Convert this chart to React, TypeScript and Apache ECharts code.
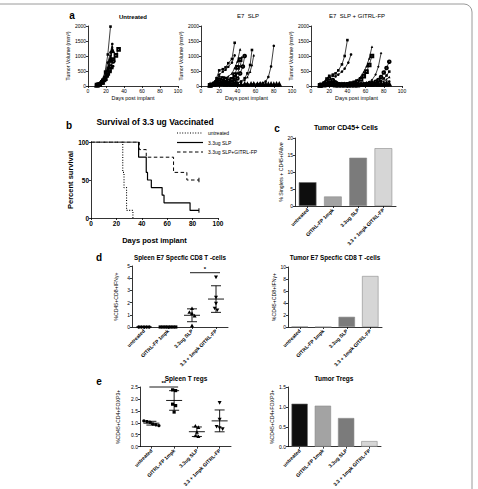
import React, { useEffect, useRef } from "react";
import * as echarts from "echarts";

const FONT = "'Liberation Sans', Arial, Helvetica, sans-serif";

// ---- Panel a: tumour volume (mm³) of each mouse, [day, volume] ----
const untreatedMice: number[][][] = [
  [[10, 30], [13, 80], [16, 210], [19, 480], [22, 1050], [25, 1980]],
  [[10, 40], [13, 90], [16, 200], [19, 420], [22, 780], [25, 1120], [27, 1400]],
  [[10, 25], [13, 60], [16, 160], [19, 330], [22, 620], [25, 960], [27, 1260]],
  [[10, 30], [13, 55], [16, 120], [19, 240], [22, 420], [25, 640], [28, 880], [31, 1020], [34, 1220]],
  [[10, 20], [13, 60], [16, 140], [19, 300], [22, 560], [25, 1010]],
  [[10, 35], [13, 70], [16, 150], [19, 270], [22, 460], [25, 640], [28, 820]],
  [[10, 20], [13, 45], [16, 90], [19, 170], [22, 320], [25, 470], [27, 600]],
  [[10, 30], [13, 55], [16, 110], [19, 210], [22, 420], [25, 820], [27, 1320]],
  [[10, 15], [13, 40], [16, 95], [19, 210], [22, 370], [25, 520], [28, 660]],
  [[10, 25], [13, 50], [16, 130], [19, 260], [22, 520], [25, 880], [27, 1180]],
];

const slpMice: number[][][] = [
  [[10, 40], [14, 110], [17, 260], [20, 520], [24, 560], [27, 620], [30, 760], [34, 900], [37, 1440]],
  [[10, 30], [14, 80], [17, 190], [20, 380], [24, 480], [27, 540], [30, 640], [34, 780], [37, 1020]],
  [[10, 50], [14, 100], [17, 230], [20, 330], [24, 300], [27, 280], [30, 320], [34, 420], [37, 600], [40, 820], [43, 1220]],
  [[10, 20], [14, 60], [17, 120], [20, 210], [24, 250], [27, 220], [30, 180], [34, 220], [37, 380], [40, 620], [43, 880]],
  [[10, 30], [14, 70], [17, 150], [20, 250], [24, 200], [27, 160], [30, 150], [34, 180], [37, 260], [40, 420], [43, 650], [45, 960]],
  [[10, 25], [14, 50], [17, 100], [20, 150], [24, 120], [27, 100], [30, 90], [34, 110], [37, 160], [40, 250], [43, 420], [46, 650], [48, 1000]],
  [[10, 20], [14, 40], [17, 80], [20, 100], [24, 90], [27, 80], [30, 70], [34, 60], [37, 80], [40, 100], [44, 150], [48, 260], [51, 420], [54, 700], [56, 1200]],
  [[10, 30], [14, 50], [17, 70], [20, 80], [24, 70], [27, 60], [30, 60], [34, 70], [37, 90], [40, 110], [44, 140], [48, 200], [51, 300], [54, 480], [56, 700], [58, 1030]],
  [[10, 20], [14, 40], [17, 50], [20, 60], [24, 50], [27, 40], [30, 40], [34, 30], [37, 40], [40, 40], [44, 50], [48, 50], [51, 60], [55, 60], [58, 70], [62, 70], [65, 80], [68, 100], [71, 150], [74, 300], [77, 650], [80, 1340]],
  [[10, 30], [14, 50], [17, 60], [20, 70], [24, 60], [27, 50], [30, 50], [34, 40], [37, 40], [40, 50], [44, 40], [48, 50], [51, 40], [55, 50], [58, 50], [62, 40], [65, 50], [68, 40], [71, 50], [74, 40], [77, 50], [80, 40], [83, 50], [86, 50]],
];

const slpGitrlMice: number[][][] = [
  [[10, 40], [14, 120], [17, 250], [20, 340], [24, 380], [27, 420], [30, 520], [34, 720], [37, 1000], [40, 1530]],
  [[10, 30], [14, 90], [17, 180], [20, 290], [24, 340], [27, 320], [30, 380], [34, 480], [37, 580], [41, 780], [44, 1050]],
  [[10, 30], [14, 60], [17, 110], [20, 130], [24, 110], [27, 90], [30, 70], [34, 60], [37, 60], [41, 80], [44, 100], [48, 150], [51, 210], [55, 320], [58, 470], [61, 660], [64, 920], [67, 1310]],
  [[10, 20], [14, 50], [17, 90], [20, 110], [24, 100], [27, 80], [30, 60], [34, 50], [37, 50], [41, 60], [44, 80], [48, 110], [51, 150], [55, 220], [58, 330], [61, 480], [64, 700], [67, 1000]],
  [[10, 25], [14, 50], [17, 80], [20, 100], [24, 90], [27, 70], [30, 60], [34, 50], [37, 40], [41, 40], [44, 50], [48, 50], [51, 60], [55, 70], [58, 80], [61, 100], [64, 140], [67, 200], [71, 380], [74, 640], [77, 1090]],
  [[10, 30], [14, 60], [17, 150], [20, 250], [24, 200], [27, 120], [30, 60], [34, 40], [37, 40], [41, 40], [44, 50], [48, 50], [51, 50], [55, 60], [58, 60], [61, 70], [64, 80], [67, 100], [71, 140], [74, 200], [77, 300], [80, 450], [83, 600], [86, 810]],
  [[10, 25], [14, 40], [17, 60], [20, 70], [24, 60], [27, 50], [30, 40], [34, 40], [37, 30], [41, 40], [44, 40], [48, 50], [51, 40], [55, 50], [58, 50], [61, 60], [64, 60], [67, 70], [71, 90], [74, 120], [77, 170], [80, 250], [83, 350], [86, 480]],
  [[10, 20], [14, 40], [17, 50], [20, 60], [24, 50], [27, 40], [30, 40], [34, 30], [37, 30], [41, 30], [44, 40], [48, 40], [51, 40], [55, 40], [58, 50], [61, 50], [64, 60], [67, 60], [71, 70], [74, 90], [77, 120], [80, 160], [83, 220], [86, 300]],
  [[10, 20], [14, 30], [17, 40], [20, 50], [24, 40], [27, 40], [30, 30], [34, 30], [37, 30], [41, 30], [44, 30], [48, 40], [51, 40], [55, 40], [58, 40], [61, 40], [64, 50], [67, 50], [71, 60], [74, 60], [77, 70], [80, 90], [83, 120], [86, 150]],
  [[10, 20], [14, 30], [17, 40], [20, 40], [24, 40], [27, 30], [30, 30], [34, 30], [37, 30], [41, 30], [44, 30], [48, 30], [51, 30], [55, 40], [58, 40], [61, 40], [64, 40], [67, 40], [71, 50], [74, 50], [77, 50], [80, 50], [83, 60], [86, 60]],
];

const tumorPanelTitles = ["Untreated", "E7  SLP", "E7  SLP + GITRL-FP"];

// ---- Panel b: Kaplan–Meier survival, [day, percent] ----
const survivalNames = ["untreated", "3.3ug SLP", "3.3ug SLP+GITRL-FP"];
const survivalUntreated = [[0, 100], [25, 60], [26, 40], [28, 10], [33, 0]];
const survivalSlp = [[0, 100], [37.5, 80], [43.5, 60], [44.5, 50], [47.5, 40], [56, 30], [57.5, 20], [78, 10], [85, 10]];
const survivalSlpGitrl = [[0, 100], [38, 90], [43.5, 80], [65, 60], [75.5, 50], [85, 50]];

// ---- Panels c–e: flow cytometry ----
const groupLabels = ["untreated", "GITRL-FP 1mpk", "3.3ug SLP", "3.3 + 1mpk GITRL-FP"];
const tumorCd45 = [7.0, 2.8, 14.2, 17.0];
const spleenCd8 = [
  [0, 0, 0, 0, 0],
  [0, 0, 0, 0, 0, 0, 0],
  [1.5, 1.2, 1.1, 0.9, 0.1],
  [4.1, 2.45, 1.95, 1.55, 1.4],
];
const tumorCd8 = [0, 0, 1.7, 8.5];
const spleenTregs = [
  [1.08, 1.05, 1.02, 0.95, 0.92, 0.88],
  [2.38, 2.35, 1.78, 1.72, 1.45],
  [0.86, 0.8, 0.6, 0.45, 0.42],
  [1.85, 1.15, 0.85, 0.8, 0.75],
];
const tumorTregs = [1.08, 1.03, 0.72, 0.14];

const barFills = ["#0e0e0e", "#a3a3a3", "#7b7b7b", "#d6d6d6"];
const lineSymbols = ["rect", "circle", "triangle", "emptyRect", "diamond", "emptyCircle", "rect", "triangle", "circle", "emptyTriangle"];

const mean = (v: number[]) => v.reduce((a, b) => a + b, 0) / v.length;
const sd = (v: number[]) => {
  const m = mean(v);
  return v.length > 1 ? Math.sqrt(v.reduce((a, b) => a + (b - m) * (b - m), 0) / (v.length - 1)) : 0;
};

// spread points of near-equal value side by side (pixel offsets)
function scatterItems(groups: number[][], tol: number, step: number) {
  const out: number[][] = [];
  groups.forEach((vals, g) => {
    const order = vals.map((_, i) => i).sort((a, b) => vals[b] - vals[a]);
    const clusters: number[][] = [];
    order.forEach((i) => {
      const last = clusters[clusters.length - 1];
      if (last && Math.abs(vals[last[last.length - 1]] - vals[i]) < tol) last.push(i);
      else clusters.push([i]);
    });
    clusters.forEach((cl) => cl.forEach((i, j) => out.push([g, vals[i], (j - (cl.length - 1) / 2) * step, g])));
  });
  return out;
}

const errorItems = (groups: number[][]) => groups.map((v, g) => [g, mean(v), sd(v)]);

const axisLine = { lineStyle: { color: "#000", width: 0.8 } };
const axisTick = { length: 2, lineStyle: { color: "#000", width: 0.8 } };
const tickLabel = (size: number, bold = false) => ({
  fontSize: size,
  color: "#000",
  fontFamily: FONT,
  fontWeight: bold ? ("bold" as const) : ("normal" as const),
  margin: 2,
});

function valueAxis(grid: number, min: number, max: number, interval: number, extra: any = {}) {
  return {
    type: "value",
    gridIndex: grid,
    min,
    max,
    interval,
    axisLine: { show: true, ...axisLine },
    axisTick: { show: true, ...axisTick },
    splitLine: { show: false },
    axisLabel: { ...tickLabel(5), formatter: (v: number) => String(v) },
    ...extra,
  };
}

function categoryAxis(grid: number) {
  return {
    type: "category",
    gridIndex: grid,
    data: groupLabels,
    axisLine: { show: true, ...axisLine },
    axisTick: { show: true, alignWithLabel: true, ...axisTick },
    axisLabel: { ...tickLabel(5, true), rotate: 45, interval: 0, margin: 3 },
  };
}

const yName = (text: string, gap: number, size = 5.2, bold = false) => ({
  name: text,
  nameLocation: "middle",
  nameGap: gap,
  nameRotate: 90,
  nameTextStyle: { fontSize: size, color: "#000", fontFamily: FONT, fontWeight: bold ? "bold" : "normal" },
});

function pointRenderer(params: any, api: any) {
  const p = api.coord([api.value(0), api.value(1)]);
  const x = p[0] + api.value(2);
  const y = p[1];
  const kind = api.value(3);
  const style = { fill: "#000" };
  if (kind === 0) return { type: "circle", shape: { cx: x, cy: y, r: 1.7 }, style };
  if (kind === 1) return { type: "rect", shape: { x: x - 1.6, y: y - 1.6, width: 3.2, height: 3.2 }, style };
  if (kind === 2) return { type: "polygon", shape: { points: [[x, y - 2.2], [x - 2, y + 1.4], [x + 2, y + 1.4]] }, style };
  return { type: "polygon", shape: { points: [[x, y + 2.2], [x - 2, y - 1.4], [x + 2, y - 1.4]] }, style };
}

function errorRenderer(params: any, api: any) {
  const g = api.value(0);
  const m = api.value(1);
  const s = api.value(2);
  const c = api.coord([g, m]);
  const t = api.coord([g, m + s]);
  const b = api.coord([g, m - s]);
  const st = { stroke: "#000", lineWidth: 0.9 };
  return {
    type: "group",
    children: [
      { type: "line", shape: { x1: c[0] - 8, y1: c[1], x2: c[0] + 8, y2: c[1] }, style: st },
      { type: "line", shape: { x1: c[0], y1: t[1], x2: c[0], y2: b[1] }, style: st },
      { type: "line", shape: { x1: c[0] - 5, y1: t[1], x2: c[0] + 5, y2: t[1] }, style: st },
      { type: "line", shape: { x1: c[0] - 5, y1: b[1], x2: c[0] + 5, y2: b[1] }, style: st },
    ],
  };
}

function significance(grid: number, from: number, to: number, level: number, mark: string) {
  return {
    type: "custom",
    xAxisIndex: grid,
    yAxisIndex: grid,
    clip: false,
    silent: true,
    data: [[from, to, level]],
    renderItem: (params: any, api: any) => {
      const a = api.coord([api.value(0), api.value(2)]);
      const b = api.coord([api.value(1), api.value(2)]);
      return {
        type: "group",
        children: [
          { type: "line", shape: { x1: a[0] - 2, y1: a[1], x2: b[0] + 4, y2: b[1] }, style: { stroke: "#000", lineWidth: 0.9 } },
          {
            type: "text",
            x: (a[0] + b[0]) / 2 + 1,
            y: a[1] - 1,
            style: { text: mark, fill: "#000", font: `bold 6px ${FONT}`, textAlign: "center", textVerticalAlign: "bottom" },
          },
        ],
      };
    },
  };
}

function barSeries(grid: number, values: number[]) {
  return {
    type: "bar",
    xAxisIndex: grid,
    yAxisIndex: grid,
    barWidth: "70%",
    silent: true,
    data: values.map((v, i) => ({
      value: v,
      itemStyle: { color: barFills[i], borderColor: i === 0 ? "#6a6a6a" : "#8a8a8a", borderWidth: 0.6 },
    })),
  };
}

function txt(x: number, y: number, text: string, font: string, align = "center") {
  return {
    type: "text",
    x,
    y,
    silent: true,
    style: { text, font, fill: "#000", textAlign: align, textVerticalAlign: "middle" },
  };
}

const survivalStyles = [
  { type: [1, 1.6], width: 1.1 },
  { type: "solid", width: 1.2 },
  { type: [3.5, 2.5], width: 1 },
];

// last point of a surviving curve carries a censoring tick
function withCensorTick(d: number[][], censored: boolean) {
  return d.map((p, i) =>
    censored && i === d.length - 1
      ? { value: p, symbol: "rect", symbolSize: [1, 4.5], itemStyle: { color: "#000" } }
      : { value: p, symbol: "none" }
  );
}

function buildOption() {
  const grids = [
    { left: 88, top: 26, width: 90, height: 60 },
    { left: 201, top: 26, width: 91, height: 60 },
    { left: 311, top: 26, width: 91, height: 60 },
    { left: 91, top: 142, width: 127, height: 76 },
    { left: 295, top: 138, width: 101, height: 68 },
    { left: 132, top: 266, width: 96, height: 61 },
    { left: 288, top: 267, width: 94, height: 60 },
    { left: 140, top: 387, width: 91, height: 62 },
    { left: 288, top: 387, width: 93, height: 62 },
  ];

  const daysName = {
    name: "Days post implant",
    nameLocation: "middle",
    nameGap: 9,
    nameTextStyle: { fontSize: 5.4, color: "#000", fontFamily: FONT },
  };

  const xAxis: any[] = [
    valueAxis(0, 0, 100, 20, daysName),
    valueAxis(1, 0, 100, 20, daysName),
    valueAxis(2, 0, 100, 20, daysName),
    valueAxis(3, 0, 100, 20, {
      axisLabel: tickLabel(6.5, true),
      name: "Days post implant",
      nameLocation: "middle",
      nameGap: 18,
      nameTextStyle: { fontSize: 7.5, color: "#000", fontFamily: FONT, fontWeight: "bold" },
    }),
    categoryAxis(4),
    categoryAxis(5),
    categoryAxis(6),
    categoryAxis(7),
    categoryAxis(8),
  ];

  const volName = yName("Tumor Volume (mm³)", 15);
  const oneDecimal = (v: number) => v.toFixed(1);
  const yAxis: any[] = [
    valueAxis(0, 0, 2000, 500, volName),
    valueAxis(1, 0, 2000, 500, volName),
    valueAxis(2, 0, 2000, 500, volName),
    valueAxis(3, 0, 100, 50, { axisLabel: tickLabel(6.5, true), ...yName("Percent survival", 17, 7.5, true) }),
    valueAxis(4, 0, 20, 5, yName("% Singlets + CD45+/Alive", 11)),
    valueAxis(5, 0, 5, 1, yName("%CD45+CD8+IFNγ+", 14)),
    valueAxis(6, 0, 10, 2, yName("%CD45+CD8+IFNγ+", 11)),
    valueAxis(7, 0, 2.5, 0.5, { axisLabel: { ...tickLabel(5), formatter: oneDecimal }, ...yName("%CD45+CD4+FOXP3+", 20) }),
    valueAxis(8, 0, 1.5, 0.5, { axisLabel: { ...tickLabel(5), formatter: oneDecimal }, ...yName("%CD45+CD4+FOXP3+", 14) }),
  ];

  const series: any[] = [];

  [untreatedMice, slpMice, slpGitrlMice].forEach((mice, p) =>
    mice.forEach((m, i) =>
      series.push({
        type: "line",
        name: `${tumorPanelTitles[p]} #${i + 1}`,
        xAxisIndex: p,
        yAxisIndex: p,
        data: m,
        symbol: lineSymbols[i % lineSymbols.length],
        symbolSize: 2.6,
        lineStyle: { color: "#000", width: 0.75 },
        itemStyle: { color: "#000", borderWidth: 0.6 },
        silent: true,
        z: 2,
      })
    )
  );

  [survivalUntreated, survivalSlp, survivalSlpGitrl].forEach((d, i) =>
    series.push({
      type: "line",
      name: survivalNames[i],
      xAxisIndex: 3,
      yAxisIndex: 3,
      step: "end",
      data: withCensorTick(d, d[d.length - 1][1] > 0),
      symbol: "none",
      showSymbol: true,
      silent: true,
      lineStyle: { color: "#000", ...survivalStyles[i] },
      itemStyle: { color: "#000" },
    })
  );

  series.push(barSeries(4, tumorCd45));

  series.push({ type: "custom", xAxisIndex: 5, yAxisIndex: 5, clip: false, silent: true, data: errorItems(spleenCd8), renderItem: errorRenderer });
  series.push({ type: "custom", xAxisIndex: 5, yAxisIndex: 5, clip: false, silent: true, data: scatterItems(spleenCd8, 0.25, 2.6), renderItem: pointRenderer });
  series.push(significance(5, 2, 3, 4.45, "*"));

  series.push(barSeries(6, tumorCd8));

  series.push({ type: "custom", xAxisIndex: 7, yAxisIndex: 7, clip: false, silent: true, data: errorItems(spleenTregs), renderItem: errorRenderer });
  series.push({ type: "custom", xAxisIndex: 7, yAxisIndex: 7, clip: false, silent: true, data: scatterItems(spleenTregs, 0.09, 3), renderItem: pointRenderer });
  series.push(significance(7, 0, 1, 2.5, "**"));

  series.push(barSeries(8, tumorTregs));

  const bold = (s: number) => `bold ${s}px ${FONT}`;

  // survival key: line sample + name
  const key: any[] = [];
  survivalNames.forEach((name, i) => {
    const y = 133 + i * 9.5;
    const st = survivalStyles[i];
    key.push({
      type: "line",
      silent: true,
      shape: { x1: 177, y1: y, x2: 203, y2: y },
      style: { stroke: "#000", lineWidth: st.width, lineDash: Array.isArray(st.type) ? st.type : null },
    });
    key.push(txt(208, y, name, `5px ${FONT}`, "left"));
  });

  const graphic: any[] = [
    {
      type: "rect",
      silent: true,
      shape: { x: -10, y: 4, width: 482, height: 520, r: 8 },
      style: { fill: "none", stroke: "#9a9a9a", lineWidth: 1 },
    },
    txt(72, 15, "a", bold(10)),
    txt(133, 17, "Untreated", bold(6)),
    txt(248, 16, "E7  SLP", `6px ${FONT}`),
    txt(357, 16, "E7  SLP + GITRL-FP", `6px ${FONT}`),
    txt(69, 125, "b", bold(10)),
    txt(155, 122, "Survival of 3.3 ug Vaccinated", bold(8.5)),
    ...key,
    txt(277, 128, "c", bold(10)),
    txt(346, 127, "Tumor CD45+ Cells", bold(7)),
    txt(99, 257, "d", bold(10)),
    txt(180, 257, "Spleen E7 Specfic CD8 T -cells", bold(6.3)),
    txt(335, 257, "Tumor E7 Specfic CD8 T -cells", bold(6.3)),
    txt(99, 381, "e", bold(10)),
    txt(186, 378, "Spleen T regs", bold(6.5)),
    txt(334, 378, "Tumor Tregs", bold(6.5)),
  ];

  return {
    animation: false,
    backgroundColor: "#fff",
    textStyle: { fontFamily: FONT },
    grid: grids.map((g) => ({ ...g, containLabel: false })),
    xAxis,
    yAxis,
    series,
    graphic,
  };
}

export default function App() {
  const ref = useRef<HTMLDivElement>(null);
  useEffect(() => {
    if (!ref.current) return;
    const chart = echarts.init(ref.current, undefined, { renderer: "svg" });
    chart.setOption(buildOption() as any);
    return () => chart.dispose();
  }, []);
  return (
    <div
      ref={ref}
      style={{ position: "fixed", left: 0, top: 0, width: 478, height: 489, background: "#fff" }}
    />
  );
}
